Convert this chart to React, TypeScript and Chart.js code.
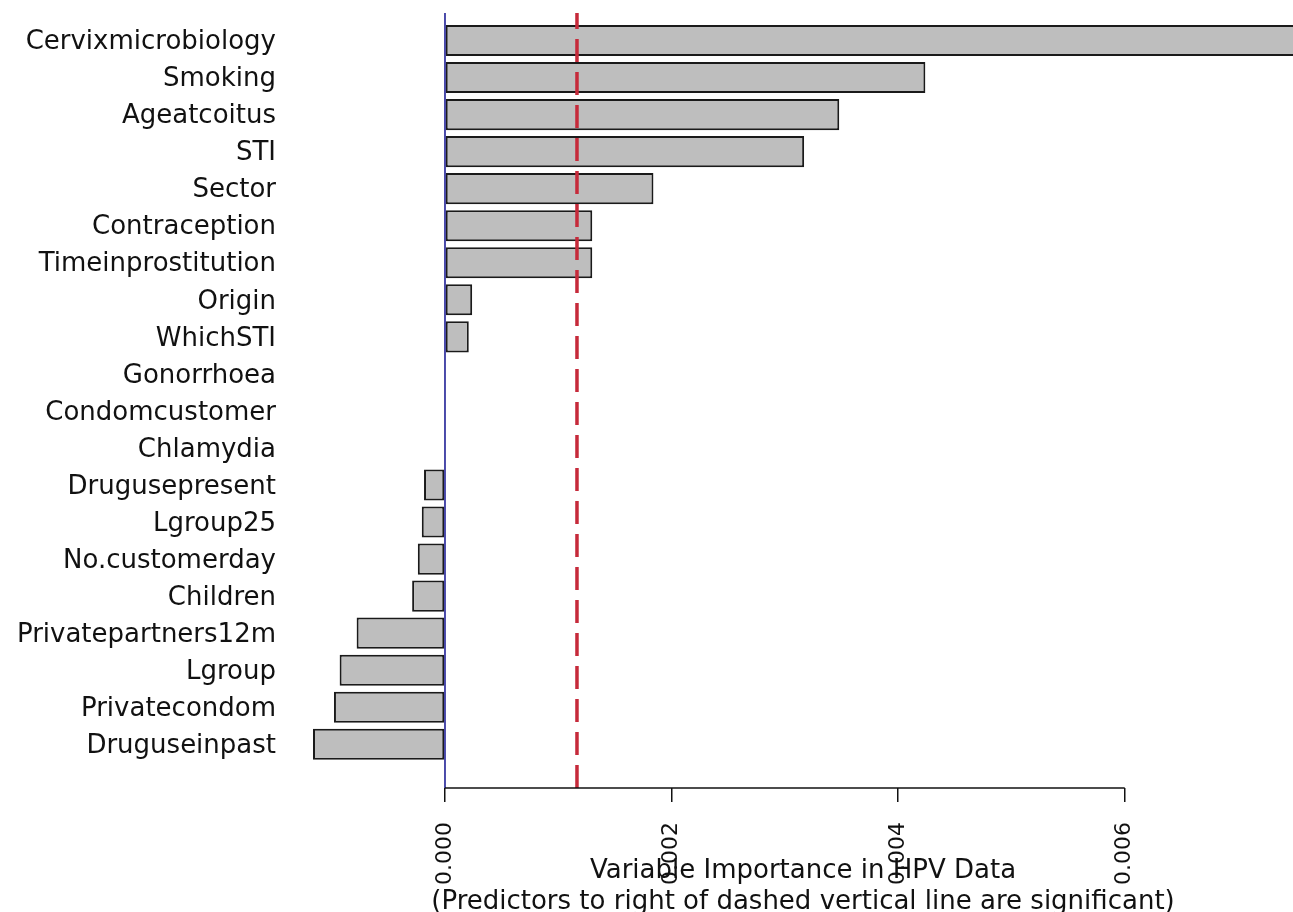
import React, { useEffect, useRef } from "react";
import { Chart, registerables } from "chart.js";

Chart.register(...registerables);

// ---- data ----
const categories = [
  "Cervixmicrobiology",
  "Smoking",
  "Ageatcoitus",
  "STI",
  "Sector",
  "Contraception",
  "Timeinprostitution",
  "Origin",
  "WhichSTI",
  "Gonorrhoea",
  "Condomcustomer",
  "Chlamydia",
  "Drugusepresent",
  "Lgroup25",
  "No.customerday",
  "Children",
  "Privatepartners12m",
  "Lgroup",
  "Privatecondom",
  "Druguseinpast",
];

const importance = [
  0.0078, 0.00424, 0.00348, 0.00317, 0.00184, 0.0013, 0.0013, 0.00024,
  0.00021, 0, 0, 0, -0.000185, -0.000205, -0.00024, -0.00029, -0.00078,
  -0.00093, -0.00098, -0.001165,
];

const xTickValues = [0, 0.002, 0.004, 0.006];
const xTickLabels = ["0.000", "0.002", "0.004", "0.006"];

const titleLines = [
  "Variable Importance in HPV Data",
  "(Predictors to right of dashed vertical line are significant)",
];

// axis limits
const X_MIN = -0.001165;
const X_MAX = 0.007485;
const Y_MIN = 0.258;
const Y_MAX = 21.18;

const FONT = "'DejaVu Sans', 'Liberation Sans', Arial, sans-serif";

export default function App() {
  const ref = useRef<HTMLCanvasElement>(null);

  useEffect(() => {
    document.body.style.margin = "0";
    const canvas = ref.current;
    if (!canvas) return;

    const threshold = Math.abs(Math.min(...importance));

    const refLines = {
      id: "refLines",
      afterDatasetsDraw(chart: any) {
        const { ctx, chartArea, scales } = chart;
        const xs = scales.x;
        ctx.save();
        // blue zero line
        const x0 = xs.getPixelForValue(0);
        ctx.strokeStyle = "#1f1f96";
        ctx.lineWidth = 1.6;
        ctx.beginPath();
        ctx.moveTo(x0, chartArea.top);
        ctx.lineTo(x0, chartArea.bottom);
        ctx.stroke();
        // red dashed significance line
        const xr = xs.getPixelForValue(threshold);
        ctx.strokeStyle = "#c62a3a";
        ctx.lineWidth = 3.5;
        ctx.setLineDash([23, 10]);
        ctx.beginPath();
        ctx.moveTo(xr, chartArea.bottom);
        ctx.lineTo(xr, chartArea.top);
        ctx.stroke();
        ctx.restore();
      },
      afterDraw(chart: any) {
        const { ctx, chartArea, scales } = chart;
        const xs = scales.x;
        ctx.save();
        // axis line between first and last tick (R style)
        ctx.strokeStyle = "#111";
        ctx.lineWidth = 1.5;
        ctx.beginPath();
        ctx.moveTo(xs.getPixelForValue(xTickValues[0]), chartArea.bottom);
        ctx.lineTo(
          xs.getPixelForValue(xTickValues[xTickValues.length - 1]),
          chartArea.bottom
        );
        ctx.stroke();
        // x-axis title (two lines)
        ctx.fillStyle = "#111";
        ctx.font = `26px ${FONT}`;
        ctx.textAlign = "center";
        ctx.textBaseline = "alphabetic";
        const cx = (chartArea.left + chartArea.right) / 2;
        ctx.fillText(titleLines[0], cx, chartArea.bottom + 90);
        ctx.fillText(titleLines[1], cx, chartArea.bottom + 121);
        ctx.restore();
      },
    };

    const chart = new Chart(canvas, {
      type: "bar",
      data: {
        datasets: [
          {
            data: importance.map((v, i) => ({ x: v, y: i + 1 })),
            backgroundColor: "#bebebe",
            borderColor: "#1a1a1a",
            borderWidth: 2,
            borderSkipped: false,
            barPercentage: 0.84,
            categoryPercentage: 1,
            clip: false,
          } as any,
        ],
      },
      options: {
        indexAxis: "y",
        responsive: false,
        animation: false,
        devicePixelRatio: 1,
        layout: { padding: { top: 13, left: 0, right: 0, bottom: 0 } },
        plugins: {
          legend: { display: false },
          tooltip: { enabled: false },
          title: { display: false },
        },
        scales: {
          x: {
            type: "linear",
            position: "bottom",
            min: X_MIN,
            max: X_MAX,
            offset: false,
            afterBuildTicks: (s: any) => {
              s.ticks = xTickValues.map((v) => ({ value: v }));
            },
            afterFit: (s: any) => {
              s.height = 124;
              s.paddingLeft = 0;
              s.paddingRight = 0;
            },
            ticks: {
              autoSkip: false,
              minRotation: 90,
              maxRotation: 90,
              padding: 20,
              color: "#111",
              font: { family: FONT, size: 22 },
              callback: (_v: any, i: number) => xTickLabels[i],
            },
            grid: {
              display: true,
              offset: false,
              drawOnChartArea: false,
              drawTicks: true,
              tickLength: 14,
              color: "#111",
              lineWidth: 1.5,
            },
            border: { display: false },
          },
          y: {
            type: "linear",
            min: Y_MIN,
            max: Y_MAX,
            reverse: true,
            offset: false,
            afterBuildTicks: (s: any) => {
              s.ticks = categories.map((_, i) => ({ value: i + 1 }));
            },
            afterFit: (s: any) => {
              s.width = 313;
              s.paddingTop = 0;
              s.paddingBottom = 0;
            },
            ticks: {
              autoSkip: false,
              padding: 37,
              labelOffset: 2,
              color: "#111",
              font: { family: FONT, size: 26 },
              callback: (v: any) => categories[Math.round(Number(v)) - 1],
            },
            grid: { display: false, offset: false, drawTicks: false, tickLength: 0 },
            border: { display: false },
          },
        },
      } as any,
      plugins: [refLines],
    });

    return () => chart.destroy();
  }, []);

  return (
    <div style={{ width: 1293, height: 912, position: "relative" }}>
      <canvas ref={ref} width={1293} height={912} style={{ display: "block" }} />
    </div>
  );
}
